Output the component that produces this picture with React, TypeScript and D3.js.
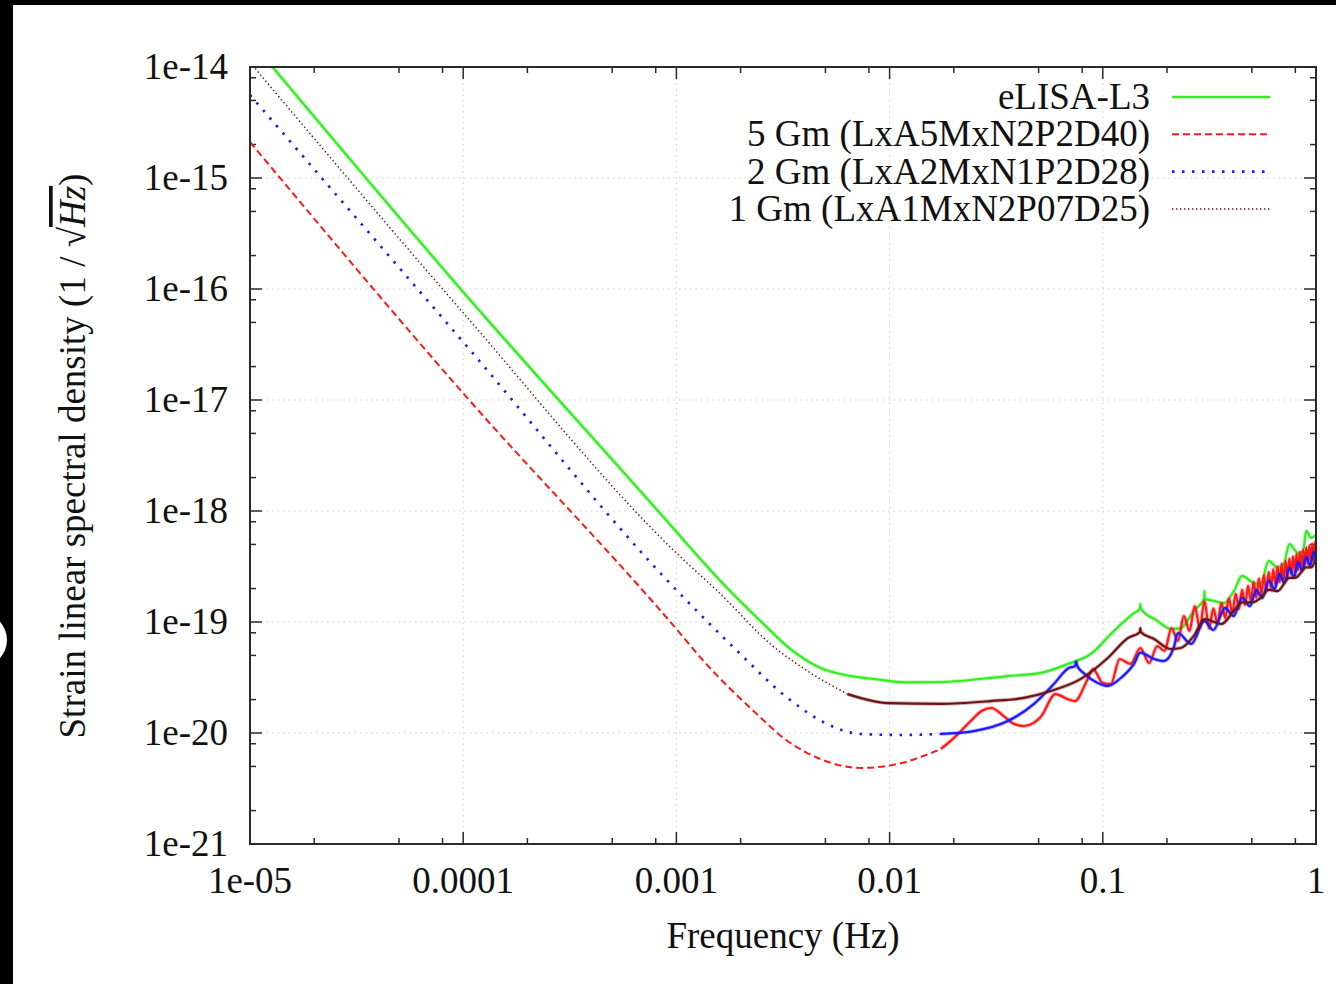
import React from 'react';
import * as d3 from 'd3';

const W = 1336;
const H = 984;
const PLOT = { left: 250, right: 1316, top: 67, bottom: 844 };
const FONT = '"Liberation Serif", "Times New Roman", serif';

const xTickValues = [1e-5, 1e-4, 1e-3, 1e-2, 1e-1, 1];
const xTickLabels = ['1e-05', '0.0001', '0.001', '0.01', '0.1', '1'];
const yTickValues = [1e-21, 1e-20, 1e-19, 1e-18, 1e-17, 1e-16, 1e-15, 1e-14];
const yTickLabels = ['1e-21', '1e-20', '1e-19', '1e-18', '1e-17', '1e-16', '1e-15', '1e-14'];
const minorMultipliers = [2, 5, 8];

// [frequency (Hz), strain (1/sqrt(Hz))]
const eLisaL3: [number, number][] = [
  [1e-5, 1.75e-14], [1e-4, 9.4e-17], [1e-3, 6.5e-19], [1.2e-3, 4.36e-19], [1.61e-3, 2.34e-19],
  [2.48e-3, 1.02e-19], [3.43e-3, 5.7e-20], [4.74e-3, 3.86e-20], [6.56e-3, 3.26e-20], [8.41e-3, 3.07e-20],
  [0.012, 2.86e-20], [0.0174, 2.88e-20], [0.0358, 3.26e-20], [0.0512, 3.48e-20], [0.0684, 4.18e-20],
  [0.0878, 5.15e-20], [0.1126, 8.3e-20], [0.14, 1.2e-19], [0.149, 1.31e-19], [0.15, 1.45e-19],
  [0.151, 1.31e-19], [0.181, 1.02e-19], [0.2085, 8.65e-20], [0.232, 8.8e-20], [0.267, 1.26e-19],
  [0.299, 1.62e-19], [0.3, 1.9e-19], [0.301, 1.62e-19], [0.332, 1.55e-19], [0.37, 1.48e-19],
  [0.412, 1.9e-19], [0.45, 2.6e-19], [0.512, 2.24e-19], [0.55, 2.2e-19], [0.6, 3.55e-19],
  [0.663, 3.07e-19], [0.707, 3.33e-19], [0.75, 5.04e-19], [0.826, 4.18e-19], [0.87, 4.36e-19],
  [0.9, 6.61e-19], [0.95, 5.71e-19], [1.0, 6.1e-19],
];

const gm5: [number, number][] = [
  [1e-5, 2.11e-15], [1e-4, 1.15e-17], [1e-3, 8.65e-20], [1.34e-3, 4.46e-20], [2.3e-3, 1.58e-20],
  [3.32e-3, 8.47e-21], [4.74e-3, 5.83e-21], [7.31e-3, 4.84e-21], [0.0109, 5.26e-21], [0.0174, 7.18e-21],
  [0.02, 9.0e-21], [0.024, 1.28e-20], [0.027, 1.58e-20], [0.03, 1.68e-20], [0.0343, 1.42e-20],
  [0.038, 1.22e-20], [0.0426, 1.156e-20], [0.047, 1.22e-20], [0.0512, 1.4e-20], [0.06, 2.24e-20],
  [0.0684, 2.02e-20], [0.074, 1.94e-20], [0.0841, 2.94e-20], [0.09, 3.77e-20], [0.1, 2.82e-20],
  [0.109, 2.76e-20], [0.12, 4.64e-20], [0.135, 4.19e-20], [0.15, 5.83e-20], [0.165, 4.27e-20],
  [0.18, 6.08e-20], [0.195, 5.48e-20], [0.21, 8.83e-20], [0.225, 6.74e-20], [0.24, 1.13e-19],
  [0.255, 8.3e-20], [0.27, 1.39e-19], [0.285, 8.8e-20], [0.3, 1.55e-19], [0.315, 8.75e-20],
  [0.33, 1.32e-19], [0.345, 9.82e-20], [0.36, 1.48e-19], [0.375, 1.09e-19], [0.39, 1.63e-19],
  [0.405, 1.2e-19], [0.42, 1.79e-19], [0.435, 1.31e-19], [0.45, 1.95e-19], [0.465, 1.43e-19],
  [0.48, 2.12e-19], [0.495, 1.55e-19], [0.51, 2.29e-19], [0.525, 1.66e-19], [0.54, 2.46e-19],
  [0.555, 1.79e-19], [0.57, 2.63e-19], [0.585, 1.91e-19], [0.6, 2.81e-19], [0.615, 2.03e-19],
  [0.63, 2.98e-19], [0.645, 2.16e-19], [0.66, 3.16e-19], [0.675, 2.28e-19], [0.69, 3.34e-19],
  [0.705, 2.41e-19], [0.72, 3.53e-19], [0.735, 2.54e-19], [0.75, 3.72e-19], [0.765, 2.67e-19],
  [0.78, 3.9e-19], [0.795, 2.81e-19], [0.81, 4.09e-19], [0.825, 2.94e-19], [0.84, 4.28e-19],
  [0.855, 3.07e-19], [0.87, 4.48e-19], [0.885, 3.21e-19], [0.9, 4.67e-19], [0.915, 3.34e-19],
  [0.93, 4.87e-19], [0.945, 3.48e-19], [0.96, 5.07e-19], [0.975, 3.62e-19], [0.99, 5.26e-19],
  [1.0, 4.3e-19],
];

const gm2: [number, number][] = [
  [1e-5, 5.6e-15], [1e-4, 3.33e-17], [1e-3, 1.94e-19], [1.93e-3, 5.48e-20], [3.32e-3, 2.07e-20],
  [5.12e-3, 1.2e-20], [7.31e-3, 9.8e-21], [0.0116, 9.6e-21], [0.0174, 9.8e-21], [0.0248, 1.04e-20],
  [0.0358, 1.28e-20], [0.0474, 1.82e-20], [0.0589, 2.76e-20], [0.0692, 3.85e-20], [0.074, 4.0e-20],
  [0.075, 4.4e-20], [0.076, 4.0e-20], [0.0813, 3.47e-20], [0.0947, 2.82e-20], [0.1055, 2.65e-20],
  [0.1215, 3.13e-20], [0.14, 4.19e-20], [0.15, 5.3e-20], [0.174, 4.64e-20], [0.193, 4.45e-20],
  [0.215, 5.83e-20], [0.225, 7.96e-20], [0.26, 6.34e-20], [0.3, 1.02e-19], [0.33, 8.47e-20],
  [0.375, 1.34e-19], [0.41, 1.13e-19], [0.45, 1.645e-19], [0.49, 1.39e-19], [0.525, 1.94e-19],
  [0.56, 1.645e-19], [0.6, 2.34e-19], [0.64, 1.98e-19], [0.675, 2.71e-19], [0.71, 2.24e-19],
  [0.75, 3.07e-19], [0.79, 2.54e-19], [0.825, 3.47e-19], [0.86, 2.88e-19], [0.9, 3.85e-19],
  [0.94, 3.2e-19], [0.975, 4.27e-19], [1.0, 3.6e-19],
];

const gm1: [number, number][] = [
  [1e-5, 1.1e-14], [1e-4, 6.1e-17], [1e-3, 4.18e-19], [1.61e-3, 1.79e-19], [2.76e-3, 6.34e-20],
  [4.12e-3, 3.62e-20], [6.35e-3, 2.24e-20], [9.8e-3, 1.86e-20], [0.0174, 1.83e-20], [0.0298, 1.94e-20],
  [0.0426, 2.07e-20], [0.057, 2.39e-20], [0.0789, 3.07e-20], [0.1055, 4.74e-20], [0.131, 7.17e-20],
  [0.149, 8.1e-20], [0.15, 8.8e-20], [0.151, 8.1e-20], [0.174, 7.03e-20], [0.2085, 5.71e-20],
  [0.232, 5.83e-20], [0.267, 7.48e-20], [0.3, 1.06e-19], [0.36, 9.6e-20], [0.412, 1.26e-19],
  [0.45, 1.5e-19], [0.5, 1.5e-19], [0.55, 1.65e-19], [0.6, 1.95e-19], [0.66, 1.9e-19],
  [0.75, 2.5e-19], [0.8, 2.5e-19], [0.9, 3.1e-19], [0.95, 3.1e-19], [1.0, 3.77e-19],
];

const seriesLabels = ['eLISA-L3', '5 Gm (LxA5MxN2P2D40)', '2 Gm (LxA2MxN1P2D28)', '1 Gm (LxA1MxN2P07D25)'];
const seriesData = [eLisaL3, gm5, gm2, gm1];

const STYLES = [
  { color: '#33ee22', dash: null as string | null, width: 2.4, solidFrom: 1e-5 },
  { color: '#ff1a1a', dash: '7,4', width: 2, solidFrom: 0.011 },
  { color: '#1a1aff', dash: '2.5,7.5', width: 2.6, solidFrom: 0.017 },
  { color: '#6e1414', dash: '1.4,2.6', width: 1.5, solidFrom: 0.006 },
];

export default function App() {
  const x = d3.scaleLog().domain([1e-5, 1]).range([PLOT.left, PLOT.right]);
  const y = d3.scaleLog().domain([1e-21, 1e-14]).range([PLOT.bottom, PLOT.top]);
  const line = d3.line<[number, number]>().x((d) => x(d[0])).y((d) => y(d[1])).curve(d3.curveMonotoneX);

  const xMinor: number[] = [];
  xTickValues.slice(0, -1).forEach((d) => minorMultipliers.forEach((m) => xMinor.push(d * m)));
  const yMinor: number[] = [];
  yTickValues.slice(0, -1).forEach((d) => minorMultipliers.forEach((m) => yMinor.push(d * m)));

  const axisColor = '#2a2a2a';
  const MAJ = 12;
  const MIN = 6;

  return (
    <svg width={W} height={H} style={{ position: 'absolute', left: 0, top: 0, display: 'block' }}
      fontFamily={FONT}>
      <defs>
        <clipPath id="plotclip">
          <rect x={PLOT.left} y={PLOT.top} width={PLOT.right - PLOT.left} height={PLOT.bottom - PLOT.top} />
        </clipPath>
      </defs>
      <rect x={0} y={0} width={W} height={H} fill="#fff" />

      {/* grid */}
      <g stroke="#cfcfcf" strokeWidth={1} strokeDasharray="1.5,4">
        {xTickValues.slice(1, -1).map((v) => (
          <line key={'gx' + v} x1={x(v)} x2={x(v)} y1={PLOT.top} y2={PLOT.bottom} />
        ))}
        {yTickValues.slice(1, -1).map((v) => (
          <line key={'gy' + v} x1={PLOT.left} x2={PLOT.right} y1={y(v)} y2={y(v)} />
        ))}
      </g>

      {/* ticks */}
      <g stroke={axisColor} strokeWidth={1.5}>
        {xTickValues.map((v) => (
          <g key={'tx' + v}>
            <line x1={x(v)} x2={x(v)} y1={PLOT.bottom} y2={PLOT.bottom - MAJ} />
            <line x1={x(v)} x2={x(v)} y1={PLOT.top} y2={PLOT.top + MAJ} />
          </g>
        ))}
        {xMinor.map((v) => (
          <g key={'mx' + v}>
            <line x1={x(v)} x2={x(v)} y1={PLOT.bottom} y2={PLOT.bottom - MIN} />
            <line x1={x(v)} x2={x(v)} y1={PLOT.top} y2={PLOT.top + MIN} />
          </g>
        ))}
        {yTickValues.map((v) => (
          <g key={'ty' + v}>
            <line x1={PLOT.left} x2={PLOT.left + MAJ} y1={y(v)} y2={y(v)} />
            <line x1={PLOT.right} x2={PLOT.right - MAJ} y1={y(v)} y2={y(v)} />
          </g>
        ))}
        {yMinor.map((v) => (
          <g key={'my' + v}>
            <line x1={PLOT.left} x2={PLOT.left + MIN} y1={y(v)} y2={y(v)} />
            <line x1={PLOT.right} x2={PLOT.right - MIN} y1={y(v)} y2={y(v)} />
          </g>
        ))}
      </g>

      {/* series */}
      <g clipPath="url(#plotclip)" fill="none" strokeLinejoin="round">
        {seriesData.map((data, i) => {
          const st = STYLES[i];
          let idx = data.findIndex((d) => d[0] >= st.solidFrom);
          if (idx < 0) idx = data.length - 1;
          const dashedPart = data.slice(0, idx + 1);
          const solidPart = st.dash ? data.slice(idx) : data;
          return (
            <g key={'s' + i}>
              {st.dash && (
                <path d={line(dashedPart) || ''} stroke={st.color} strokeWidth={st.width}
                  strokeDasharray={st.dash} />
              )}
              <path d={line(solidPart) || ''} stroke={st.color} strokeWidth={4} strokeOpacity={0.3} />
              <path d={line(solidPart) || ''} stroke={st.color} strokeWidth={2.2} />
            </g>
          );
        })}
      </g>

      {/* border */}
      <rect x={PLOT.left} y={PLOT.top} width={PLOT.right - PLOT.left} height={PLOT.bottom - PLOT.top}
        fill="none" stroke={axisColor} strokeWidth={2} />

      {/* tick labels */}
      <g fontSize={37} fill="#111">
        {xTickValues.map((v, i) => (
          <text key={'lx' + v} x={x(v)} y={893} textAnchor="middle">{xTickLabels[i]}</text>
        ))}
        {yTickValues.map((v, i) => (
          <text key={'ly' + v} x={228} y={y(v) + 12} textAnchor="end">{yTickLabels[i]}</text>
        ))}
      </g>

      {/* axis titles */}
      <text x={783} y={948} fontSize={37} textAnchor="middle" fill="#111">Frequency (Hz)</text>
      <text transform="translate(85,456) rotate(-90)" fontSize={37} textAnchor="middle" fill="#111">
        Strain linear spectral density (1 / √<tspan fontStyle="italic" textDecoration="overline">Hz</tspan>)
      </text>

      {/* legend */}
      <g fontSize={37} fill="#111">
        {seriesLabels.map((lab, i) => {
          const st = STYLES[i];
          const cy = 97 + i * 37.3;
          return (
            <g key={'lg' + i}>
              <text x={1150} y={cy + 12} textAnchor="end">{lab}</text>
              <line x1={1172} x2={1270} y1={cy} y2={cy} stroke={st.color} strokeWidth={st.dash ? st.width : 2.4}
                strokeDasharray={st.dash || undefined} />
            </g>
          );
        })}
      </g>

      {/* black frame edges of the source image */}
      <rect x={0} y={0} width={W} height={5} fill="#000" />
      <rect x={0} y={0} width={13} height={H} fill="#000" />
      <circle cx={-20} cy={640} r={27} fill="#fff" />
    </svg>
  );
}
